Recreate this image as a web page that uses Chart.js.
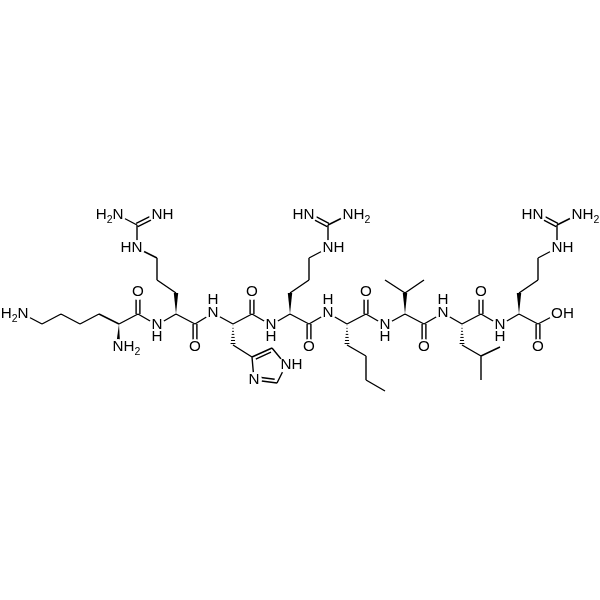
<!DOCTYPE html>
<html>
<head>
<meta charset="utf-8">
<style>
  html, body { margin: 0; padding: 0; background: #fff; }
  canvas { display: block; }
</style>
<script src="https://cdn.jsdelivr.net/npm/chart.js@4"></script>
</head>
<body>
<canvas id="molecule" width="600" height="600"></canvas>
<script>
const atomIds = [
  'n1','c1','c2','c3','c4','ka','kn','kc','ko',
  'rn','ra','rb','rg','rd','re','rz','rh1','rh2','rc','ro',
  'hn','ha','hb','hg','hd','he','hf','hh','hc','ho',
  'sn','sa','sb','sg','sd','se','sz','sh1','sh2','sc','so',
  'ln','la','lb','lg','ld','le','lc','lo',
  'vn','va','vb','vg1','vg2','vc','vo',
  'un','ua','ub','ug','ud1','ud2','uc','uo',
  'tn','ta','tb','tg','td','te','tz','th1','th2','tc','to','toh'
];
const atomX = [
  23,42,61,80,99,119,118,138,138,
  157,176,176,157,157,137,137,118,157,195,195,
  213,233,233,252,272,286,277,254,252,252,
  271,290,290,309,309,328,328,309,348,309,309,
  328,347,347,366,366,385,366,366,
  385,405,405,385,424,424,424,
  443,462,462,481,500,481,481,481,
  500,519,519,538,538,557,557,538,577,538,538,557
];
const atomY = [
  314,324,314,324,314,324,347,314,292,
  325,314,293,280,258,248,225,215,215,324,347,
  313,324,345,357,348,365,383,380,314,292,
  325,314,293,280,258,248,225,215,215,324,347,
  313,324,345,356,380,391,314,292,
  325,314,293,280,280,324,347,
  313,324,345,356,347,380,314,292,
  325,314,293,280,258,248,225,215,215,324,347,314
];

const singleBonds = [
  'n1-c1','c1-c2','c2-c3','c3-c4','c4-ka','ka-kc','kc-rn','rn-ra','ra-rc',
  'rb-rg','rg-rd','rd-re','re-rz','rz-rh1','rc-hn','hn-ha','ha-hc','hc-sn',
  'hb-hg','he-hf','hd-he','hh-hg','hg-hd','hf-hh',
  'sn-sa','sa-sc','sb-sg','sg-sd','sd-se','se-sz','sz-sh2','sc-ln','ln-la','la-lc',
  'lb-lg','lg-ld','ld-le','lc-vn','vn-va','va-vc','vb-vg1','vb-vg2','vc-un','un-ua','ua-uc',
  'ub-ug','ug-ud1','ug-ud2','uc-tn','tn-ta','ta-tc','tb-tg','tg-td','td-te','te-tz','tz-th2','tc-toh'
];
const doubleBonds = ['kc-ko','rc-ro','hc-ho','sc-so','lc-lo','vc-vo','uc-uo','tc-to','rz-rh2','sz-sh1','tz-th1'];
const ringDoubleBonds = ['hg-hd','hh-hf'];
const wedgeBonds = ['ka-kn','ra-rb','sa-sb','va-vb','ta-tb'];
const hashBonds = ['ha-hb','la-lb','ua-ub'];

const labelAtoms = ['n1','kn','ko','re','rh1','rh2','ro','hn','he','hh','ho','se','sh1','sh2','so','ln','lo','vo','un','uo','te','th1','th2','to','toh','rn','sn','vn','tn'];
const labelTexts = ['H2N','NH2','O','HN','H2N','NH','O','N','NH','N','O','NH','HN','NH2','O','N','O','O','N','O','NH','HN','NH2','O','OH','N','N','N','N'];
const hydrogensAbove = ['hn','ln','un'];
const hydrogensBelow = ['rn','sn','vn','tn'];

const ringCentre = { x: 268, y: 366 };
const doubleGap = 1.9;

function atom(id) {
  const i = atomIds.indexOf(id);
  return { x: atomX[i], y: atomY[i] };
}

function ends(bond) {
  const [a, b] = bond.split('-');
  return [atom(a), atom(b)];
}

// parallel offset of a bond, in chart units
function normal(p, q) {
  const len = Math.hypot(q.x - p.x, q.y - p.y);
  return { x: -(q.y - p.y) / len, y: (q.x - p.x) / len };
}

const linePoints = [];
function addLine(p, q) {
  linePoints.push({ x: p.x, y: p.y }, { x: q.x, y: q.y }, { x: NaN, y: NaN });
}

singleBonds.forEach(b => {
  const [p, q] = ends(b);
  addLine(p, q);
});
doubleBonds.forEach(b => {
  const [p, q] = ends(b);
  const n = normal(p, q);
  addLine({ x: p.x + n.x * doubleGap, y: p.y + n.y * doubleGap }, { x: q.x + n.x * doubleGap, y: q.y + n.y * doubleGap });
  addLine({ x: p.x - n.x * doubleGap, y: p.y - n.y * doubleGap }, { x: q.x - n.x * doubleGap, y: q.y - n.y * doubleGap });
});
ringDoubleBonds.forEach(b => {
  const [p, q] = ends(b);
  let n = normal(p, q);
  const mid = { x: (p.x + q.x) / 2, y: (p.y + q.y) / 2 };
  if ((ringCentre.x - mid.x) * n.x + (ringCentre.y - mid.y) * n.y < 0) n = { x: -n.x, y: -n.y };
  const dx = (q.x - p.x) * 0.12, dy = (q.y - p.y) * 0.12;
  addLine({ x: p.x + n.x * 3.4 + dx, y: p.y + n.y * 3.4 + dy }, { x: q.x + n.x * 3.4 - dx, y: q.y + n.y * 3.4 - dy });
});

const moleculePlugin = {
  id: 'molecule',
  afterDatasetsDraw(chart) {
    const { ctx, scales } = chart;
    const px = p => ({ x: scales.x.getPixelForValue(p.x), y: scales.y.getPixelForValue(p.y) });

    ctx.save();
    ctx.fillStyle = '#000';
    ctx.strokeStyle = '#000';

    wedgeBonds.forEach(b => {
      const [p, q] = ends(b).map(px);
      const n = normal(p, q);
      ctx.beginPath();
      ctx.moveTo(p.x, p.y);
      ctx.lineTo(q.x + n.x * 2.2, q.y + n.y * 2.2);
      ctx.lineTo(q.x - n.x * 2.2, q.y - n.y * 2.2);
      ctx.closePath();
      ctx.fill();
    });

    ctx.lineWidth = 1;
    hashBonds.forEach(b => {
      const [p, q] = ends(b).map(px);
      const n = normal(p, q);
      for (let t = 0.06; t <= 1; t += 0.145) {
        const cx = p.x + (q.x - p.x) * t, cy = p.y + (q.y - p.y) * t, w = 2.6 * t;
        ctx.beginPath();
        ctx.moveTo(cx + n.x * w, cy + n.y * w);
        ctx.lineTo(cx - n.x * w, cy - n.y * w);
        ctx.stroke();
      }
    });

    // clear the bond ends under the atom letters
    ctx.fillStyle = '#fff';
    labelAtoms.forEach(id => {
      const c = px(atom(id));
      ctx.beginPath();
      ctx.arc(c.x, c.y, 8, 0, Math.PI * 2);
      ctx.fill();
    });

    ctx.fillStyle = '#000';
    ctx.textBaseline = 'middle';
    ctx.textAlign = 'left';
    const mainFont = '15.2px "Liberation Sans"', subFont = '10.5px "Liberation Sans"';
    const widthOf = ch => {
      ctx.font = ch === '2' ? subFont : mainFont;
      return ctx.measureText(ch).width;
    };

    labelAtoms.forEach((id, i) => {
      const c = px(atom(id));
      const text = labelTexts[i];
      const heavy = text.search(/[NO]/);
      let x = c.x - widthOf(text[heavy]) / 2;
      for (let k = 0; k < heavy; k++) x -= widthOf(text[k]);
      for (const ch of text) {
        ctx.font = ch === '2' ? subFont : mainFont;
        ctx.fillText(ch, x, ch === '2' ? c.y + 5 : c.y);
        x += widthOf(ch);
      }
    });

    ctx.font = mainFont;
    ctx.textAlign = 'center';
    hydrogensAbove.forEach(id => {
      const c = px(atom(id));
      ctx.fillText('H', c.x, c.y - 13);
    });
    hydrogensBelow.forEach(id => {
      const c = px(atom(id));
      ctx.fillText('H', c.x, c.y + 12);
    });
    ctx.restore();
  }
};

new Chart(document.getElementById('molecule'), {
  type: 'scatter',
  data: {
    datasets: [{
      data: linePoints,
      showLine: true,
      spanGaps: false,
      borderColor: '#000',
      borderWidth: 1.4,
      pointRadius: 0,
      pointHoverRadius: 0,
      fill: false
    }]
  },
  options: {
    responsive: false,
    animation: false,
    events: [],
    layout: { padding: 0 },
    scales: {
      x: { type: 'linear', display: false, min: 0, max: 600 },
      y: { type: 'linear', display: false, min: 0, max: 600, reverse: true }
    },
    plugins: {
      legend: { display: false },
      tooltip: { enabled: false },
      title: { display: false }
    }
  },
  plugins: [moleculePlugin]
});
</script>
</body>
</html>
